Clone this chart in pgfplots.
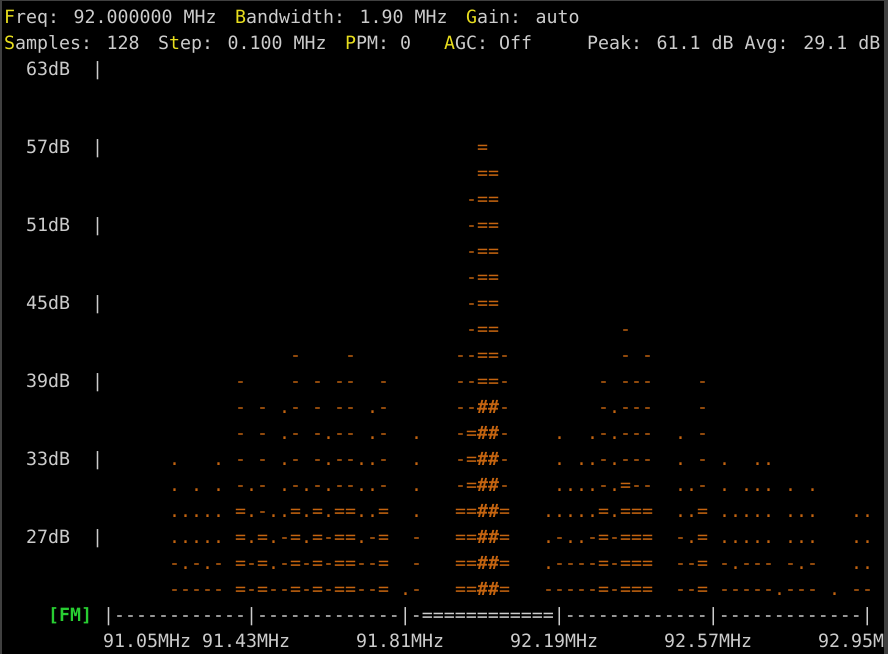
\documentclass[border=0pt]{standalone}
\usepackage{pgfplots}
\pgfplotsset{compat=1.18}
\usepackage{fontspec}
\setmainfont{DejaVu Sans Mono}[Ligatures=TeXOff]
\definecolor{termfg}{RGB}{204,204,204}
\definecolor{termyel}{RGB}{232,222,30}
\definecolor{termgrn}{RGB}{40,205,50}
\definecolor{termorg}{RGB}{196,100,16}
\definecolor{termbord}{RGB}{64,64,64}
\newcommand{\tf}{\fontsize{9.136pt}{11pt}\selectfont}
\newcommand{\Y}[1]{\textcolor{termyel}{#1}}
\tikzset{tt/.style={anchor=base west, inner sep=0pt, outer sep=0pt, font=\tf, text=termfg}}
\begin{document}
\begin{tikzpicture}
\begin{axis}[
  scale only axis, width=444pt, height=327pt,
  xmin=-0.863636, xmax=79.863636, ymin=-0.903846, ymax=24.25,
  y dir=reverse, hide axis, clip=false,
  every node near coord/.append style={anchor=base, inner sep=0pt, outer sep=0pt, font=\tf, text=termorg},
]
\fill[black] (axis cs:-0.863636,-0.903846) rectangle (axis cs:79.863636,24.25);
% header
\node[tt] at (axis cs:-0.5,0) {\Y{F}req: 92.000000 MHz};
\node[tt] at (axis cs:20.5,0) {\Y{B}andwidth: 1.90 MHz};
\node[tt] at (axis cs:41.5,0) {\Y{G}ain: auto};
\node[tt] at (axis cs:-0.5,1) {\Y{S}amples: 128};
\node[tt] at (axis cs:13.5,1) {S\Y{t}ep: 0.100 MHz};
\node[tt] at (axis cs:30.5,1) {\Y{P}PM: 0};
\node[tt] at (axis cs:39.5,1) {\Y{A}GC: Off};
\node[tt] at (axis cs:52.5,1) {Peak: 61.1 dB Avg: 29.1 dB};
% y labels
\node[tt] at (axis cs:1.5,2) {63dB}; \node[tt] at (axis cs:7.5,2) {|};
\node[tt] at (axis cs:1.5,5) {57dB}; \node[tt] at (axis cs:7.5,5) {|};
\node[tt] at (axis cs:1.5,8) {51dB}; \node[tt] at (axis cs:7.5,8) {|};
\node[tt] at (axis cs:1.5,11) {45dB}; \node[tt] at (axis cs:7.5,11) {|};
\node[tt] at (axis cs:1.5,14) {39dB}; \node[tt] at (axis cs:7.5,14) {|};
\node[tt] at (axis cs:1.5,17) {33dB}; \node[tt] at (axis cs:7.5,17) {|};
\node[tt] at (axis cs:1.5,20) {27dB}; \node[tt] at (axis cs:7.5,20) {|};
% frequency axis
\node[tt, text=termgrn, font=\tf\bfseries] at (axis cs:3.5,23) {[FM]};
\node[tt] at (axis cs:8.5,23) {|------------|-------------|-============|-------------|-------------|};
\node[tt] at (axis cs:8.5,24) {91.05MHz};
\node[tt] at (axis cs:17.5,24) {91.43MHz};
\node[tt] at (axis cs:31.5,24) {91.81MHz};
\node[tt] at (axis cs:45.5,24) {92.19MHz};
\node[tt] at (axis cs:59.5,24) {92.57MHz};
\node[tt] at (axis cs:73.5,24) {92.95MHz};
% spectrum characters: '.'
\addplot[draw=none, mark=none, nodes near coords={.}] coordinates {
(25,15) (33,15) (55,15)
(25,16) (29,16) (33,16) (37,16) (50,16) (53,16) (55,16) (61,16)
(15,17) (19,17) (25,17) (29,17) (32,17) (33,17) (37,17) (50,17) (52,17) (53,17) (55,17) (61,17) (65,17) (68,17) (69,17)
(15,18) (17,18) (19,18) (22,18) (25,18) (27,18) (29,18) (32,18) (33,18) (37,18) (50,18) (51,18) (52,18) (53,18) (55,18) (61,18) (62,18) (65,18) (67,18) (68,18) (69,18) (71,18) (73,18)
(15,19) (16,19) (17,19) (18,19) (19,19) (22,19) (24,19) (25,19) (27,19) (29,19) (32,19) (33,19) (37,19) (49,19) (50,19) (51,19) (52,19) (53,19) (55,19) (61,19) (62,19) (65,19) (66,19) (67,19) (68,19) (69,19) (71,19) (72,19) (73,19) (77,19) (78,19)
(15,20) (16,20) (17,20) (18,20) (19,20) (22,20) (24,20) (27,20) (32,20) (49,20) (51,20) (52,20) (62,20) (65,20) (66,20) (67,20) (68,20) (69,20) (71,20) (72,20) (73,20) (77,20) (78,20)
(16,21) (18,21) (24,21) (49,21) (66,21) (72,21) (77,21) (78,21)
(36,22) (70,22) (75,22)
};
% '-'
\addplot[draw=none, mark=none, nodes near coords={-}] coordinates {
(42,7) (42,8) (42,9) (42,10) (42,11) (42,12) (56,12)
(26,13) (31,13) (41,13) (42,13) (45,13) (56,13) (58,13)
(21,14) (26,14) (28,14) (30,14) (31,14) (34,14) (41,14) (42,14) (45,14) (54,14) (56,14) (57,14) (58,14) (63,14)
(21,15) (23,15) (26,15) (28,15) (30,15) (31,15) (34,15) (41,15) (42,15) (45,15) (54,15) (56,15) (57,15) (58,15) (63,15)
(21,16) (23,16) (26,16) (28,16) (30,16) (31,16) (34,16) (41,16) (45,16) (54,16) (56,16) (57,16) (58,16) (63,16)
(21,17) (23,17) (26,17) (28,17) (30,17) (31,17) (34,17) (41,17) (45,17) (54,17) (56,17) (57,17) (58,17) (63,17)
(21,18) (23,18) (26,18) (28,18) (30,18) (31,18) (34,18) (41,18) (45,18) (54,18) (57,18) (58,18) (63,18)
(23,19)
(25,20) (29,20) (33,20) (37,20) (50,20) (53,20) (55,20) (61,20)
(15,21) (17,21) (19,21) (22,21) (25,21) (27,21) (29,21) (32,21) (33,21) (37,21) (50,21) (51,21) (52,21) (53,21) (55,21) (61,21) (62,21) (65,21) (67,21) (68,21) (69,21) (71,21) (73,21)
(15,22) (16,22) (17,22) (18,22) (19,22) (22,22) (24,22) (25,22) (27,22) (29,22) (32,22) (33,22) (37,22) (49,22) (50,22) (51,22) (52,22) (53,22) (55,22) (61,22) (62,22) (65,22) (66,22) (67,22) (68,22) (69,22) (71,22) (72,22) (73,22) (77,22) (78,22)
};
% '='
\addplot[draw=none, mark=none, nodes near coords={=}] coordinates {
(43,5)
(43,6) (44,6) (43,7) (44,7) (43,8) (44,8) (43,9) (44,9) (43,10) (44,10) (43,11) (44,11) (43,12) (44,12)
(43,13) (44,13) (43,14) (44,14)
(42,16) (42,17) (42,18) (56,18)
(21,19) (26,19) (28,19) (30,19) (31,19) (34,19) (41,19) (42,19) (45,19) (54,19) (56,19) (57,19) (58,19) (63,19)
(21,20) (23,20) (26,20) (28,20) (30,20) (31,20) (34,20) (41,20) (42,20) (45,20) (54,20) (56,20) (57,20) (58,20) (63,20)
(21,21) (23,21) (26,21) (28,21) (30,21) (31,21) (34,21) (41,21) (42,21) (45,21) (54,21) (56,21) (57,21) (58,21) (63,21)
(21,22) (23,22) (26,22) (28,22) (30,22) (31,22) (34,22) (41,22) (42,22) (45,22) (54,22) (56,22) (57,22) (58,22) (63,22)
};
% '#'
\addplot[draw=none, mark=none, nodes near coords={\bfseries\#}] coordinates {
(43,15) (44,15) (43,16) (44,16) (43,17) (44,17) (43,18) (44,18)
(43,19) (44,19) (43,20) (44,20) (43,21) (44,21) (43,22) (44,22)
};
% window border
\fill[termbord] (axis cs:-0.863636,-0.903846) rectangle (axis cs:-0.681818,24.25);
\fill[termbord] (axis cs:79.5,-0.903846) rectangle (axis cs:79.863636,24.25);
\fill[termbord] (axis cs:-0.863636,-0.903846) rectangle (axis cs:79.863636,-0.865385);
\end{axis}
\pgfresetboundingbox
\path (current axis.south west) rectangle (current axis.north east);
\end{tikzpicture}
\end{document}
